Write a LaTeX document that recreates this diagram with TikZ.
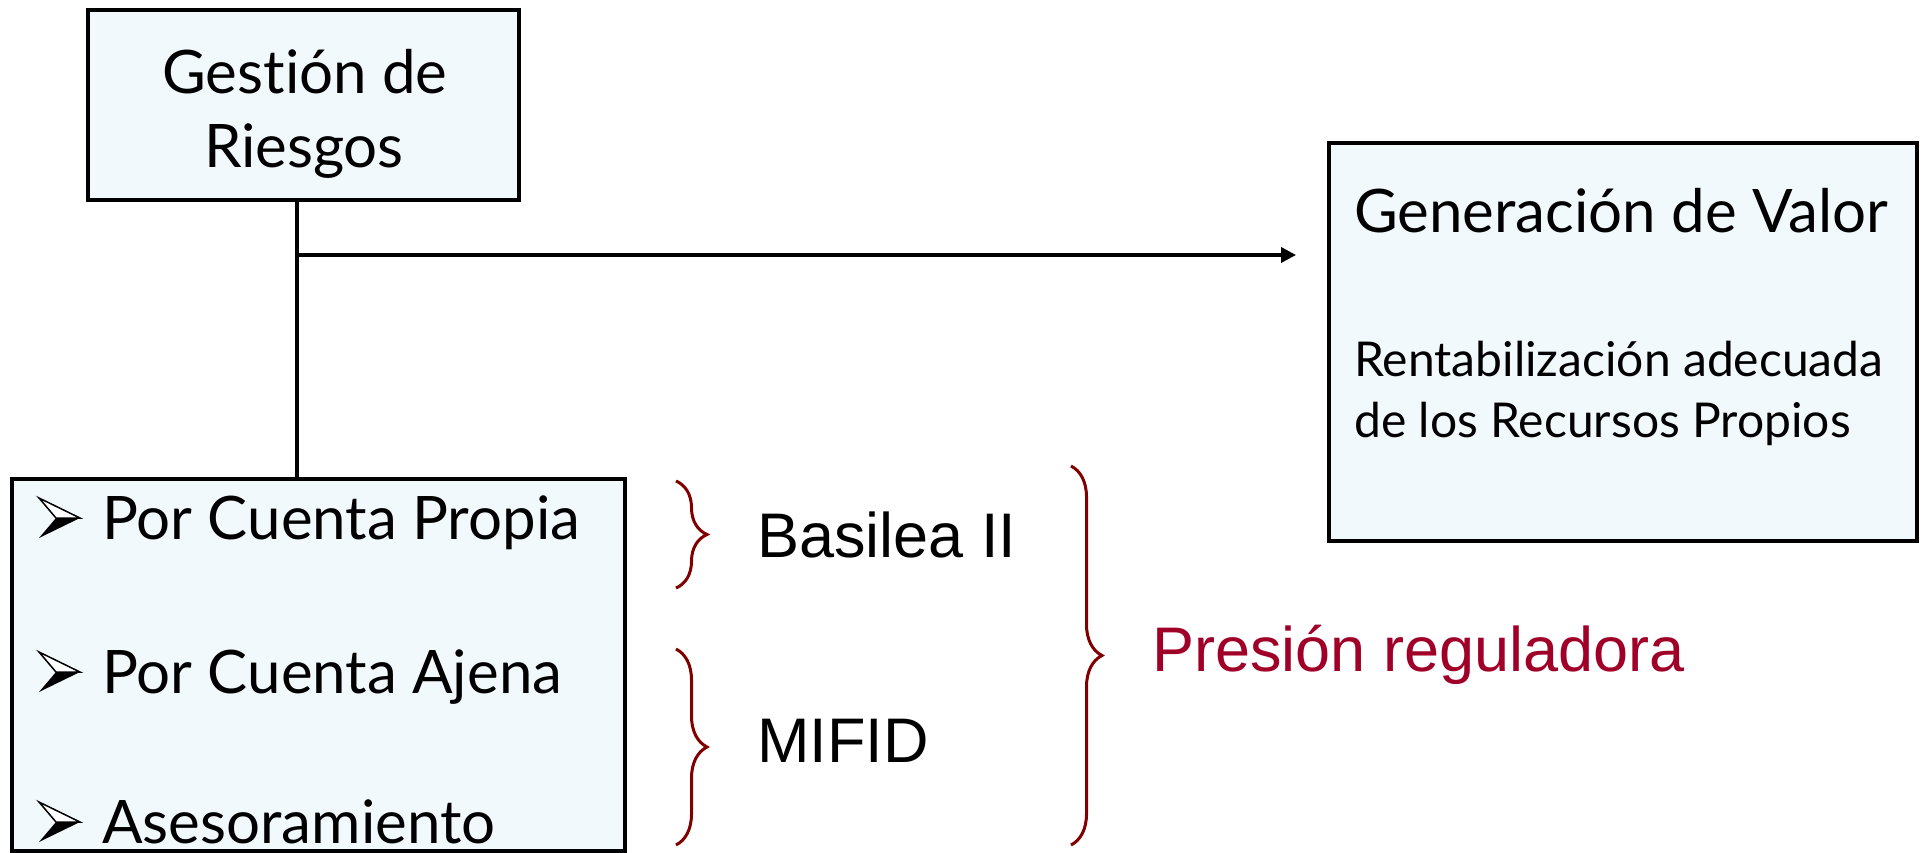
\documentclass[tikz,border=0pt]{standalone}
\usepackage{fontspec}
\setmainfont{Lato}[Ligatures={NoCommon}]
\newfontfamily\arialf{Liberation Sans}
\usetikzlibrary{decorations.pathreplacing,arrows.meta}
\definecolor{boxfill}{RGB}{242,249,252}
\definecolor{regred}{RGB}{160,0,40}
\definecolor{bracered}{RGB}{128,0,0}
\begin{document}
\begin{tikzpicture}[x=1pt,y=-1pt,
  box/.style={draw=black,line width=4pt,fill=boxfill,inner sep=0pt},
  conn/.style={line width=3.5pt,draw=black},
  bigtxt/.style={inner sep=0pt,font=\fontsize{60}{73}\selectfont},
  smalltxt/.style={inner sep=0pt,anchor=base west,font=\fontsize{48}{61}\selectfont},
  regtxt/.style={inner sep=0pt,anchor=base west,font=\arialf\fontsize{63}{75}\selectfont},
  bracestyle/.style={decorate,decoration={brace,amplitude=31pt},line width=3pt,draw=bracered},
  bulletout/.style={draw=black,line width=1.5pt,fill=white,line join=miter},
]
\useasboundingbox (0,0) rectangle (1921,853);

% boxes
\node[box,minimum width=431,minimum height=190] (gest) at (303.5,105) {};
\node[box,minimum width=588,minimum height=398] (gen) at (1623,342) {};
\node[box,minimum width=613,minimum height=372] (list) at (318.5,665) {};

% box texts
\node[bigtxt,anchor=base] (gest1) at (305,94) {Gestión de};
\node[bigtxt,anchor=base] (gest2) at (304,168) {Riesgos};
\node[bigtxt,anchor=base west] (gen1) at (1354,233) {Generación de Valor};
\node[smalltxt] (gen2) at (1354,376) {Rentabilización adecuada};
\node[smalltxt] (gen3) at (1354,437) {de los Recursos Propios};

\node[bigtxt,anchor=base west] (it1) at (102,539) {Por Cuenta Propia};
\node[bigtxt,anchor=base west] (it2) at (102,693) {Por Cuenta Ajena};
\node[bigtxt,anchor=base west] (it3) at (102,843) {Asesoramiento};

% bullets
\foreach \yb in {539,693,843} {
  \draw[bulletout] (39,{\yb-41}) -- (80,{\yb-21}) -- (56,{\yb-21}) -- cycle;
  \fill[black] (56,{\yb-21}) -- (80,{\yb-21}) -- (39,{\yb-1}) -- cycle;
}

% connectors
\coordinate (j) at (297,255);
\coordinate (aend) at (1296,255);
\draw[conn] (gest.south -| j) -- (list.north -| j);
\draw[conn,-{Triangle[length=15pt,width=15pt]}] (j) -- (aend);

% braces
\draw[bracestyle] (676,481) -- (676,588);
\draw[bracestyle] (676,649) -- (676,845);
\draw[bracestyle] (1071,466) -- (1071,845);

% regulation texts
\node[regtxt] (bas) at (757,557) {Basilea II};
\node[regtxt] (mifid) at (757,762) {MIFID};
\node[regtxt,text=regred] (pres) at (1152,671) {Presión reguladora};
\end{tikzpicture}
\end{document}
